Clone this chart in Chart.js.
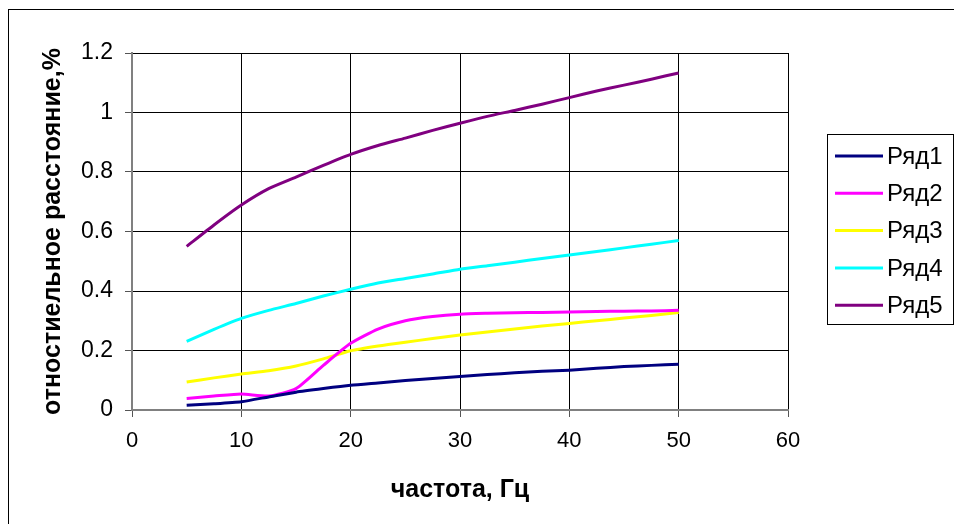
<!DOCTYPE html>
<html>
<head>
<meta charset="utf-8">
<script src="https://cdn.jsdelivr.net/npm/chart.js@4"></script>
<style>
  html, body { margin: 0; padding: 0; background: #fff; }
  #wrap { position: relative; width: 954px; height: 524px; overflow: hidden; background: #fff; }
  #wrap canvas { position: absolute; left: 0; top: 0; }
  #frame { position: absolute; left: 8px; top: 9px; width: 980px; height: 540px;
           border-left: 1px solid #000; border-top: 1px solid #000; pointer-events: none; }
</style>
</head>
<body>
<div id="wrap">
  <canvas id="chart" width="954" height="524"></canvas>
  <div id="frame"></div>
</div>
<script>
// Frequency, Hz
const freq = [5, 7.5, 10, 12.5, 15, 17.5, 20, 22.5, 25, 27.5, 30, 32.5, 35, 37.5, 40, 42.5, 45, 47.5, 50];

// Relative distance, %
const row1 = [0.016, 0.021, 0.028, 0.044, 0.060, 0.072, 0.083, 0.091, 0.099, 0.106, 0.113, 0.119, 0.125, 0.130, 0.134, 0.140, 0.146, 0.150, 0.154];
const row2 = [0.039, 0.047, 0.054, 0.047, 0.072, 0.150, 0.224, 0.272, 0.300, 0.314, 0.322, 0.325, 0.327, 0.328, 0.329, 0.331, 0.332, 0.333, 0.335];
const row3 = [0.094, 0.108, 0.121, 0.132, 0.148, 0.172, 0.199, 0.215, 0.228, 0.240, 0.252, 0.262, 0.272, 0.282, 0.291, 0.300, 0.309, 0.318, 0.328];
const row4 = [0.231, 0.271, 0.308, 0.335, 0.358, 0.383, 0.406, 0.427, 0.442, 0.457, 0.473, 0.485, 0.497, 0.509, 0.521, 0.533, 0.545, 0.557, 0.570];
const row5 = [0.550, 0.622, 0.689, 0.744, 0.783, 0.822, 0.859, 0.889, 0.914, 0.940, 0.964, 0.987, 1.007, 1.028, 1.050, 1.072, 1.092, 1.112, 1.133];

const seriesNames = ['Ряд1', 'Ряд2', 'Ряд3', 'Ряд4', 'Ряд5'];
const seriesColors = ['#000080', '#FF00FF', '#FFFF00', '#00FFFF', '#800080'];

const xTicks = [0, 10, 20, 30, 40, 50, 60];
const xTickLabels = ['0', '10', '20', '30', '40', '50', '60'];
const yTicks = [0, 0.2, 0.4, 0.6, 0.8, 1, 1.2];
const yTickLabels = ['0', '0.2', '0.4', '0.6', '0.8', '1', '1.2'];

const FONT = '"Liberation Sans", Arial, sans-serif';

const datasets = [row1, row2, row3, row4, row5].map((vals, i) => ({
  label: seriesNames[i],
  data: freq.map((f, j) => ({ x: f, y: vals[j] })),
  borderColor: seriesColors[i],
  backgroundColor: seriesColors[i],
  borderWidth: 3,
  pointRadius: 0,
  tension: 0.2,
  fill: false
}));

// Boxed legend on the right, drawn from the dataset list
const boxLegend = {
  id: 'boxLegend',
  afterDraw(chart, args, opts) {
    const ctx = chart.ctx;
    ctx.save();
    ctx.strokeStyle = '#000';
    ctx.lineWidth = 1;
    ctx.strokeRect(opts.left + 0.5, opts.top + 0.5, opts.width, opts.height);
    ctx.font = opts.fontSize + 'px ' + FONT;
    ctx.textBaseline = 'middle';
    ctx.textAlign = 'left';
    chart.data.datasets.forEach((ds, i) => {
      const y = opts.firstY + i * opts.step;
      ctx.strokeStyle = ds.borderColor;
      ctx.lineWidth = 3;
      ctx.beginPath();
      ctx.moveTo(opts.lineX0, y);
      ctx.lineTo(opts.lineX1, y);
      ctx.stroke();
      ctx.fillStyle = '#000';
      ctx.fillText(ds.label, opts.textX, y + 1);
    });
    ctx.restore();
  }
};

new Chart(document.getElementById('chart'), {
  type: 'line',
  data: { datasets },
  plugins: [boxLegend],
  options: {
    responsive: false,
    animation: false,
    layout: { padding: { left: 0, top: 53, right: 166, bottom: 0 } },
    plugins: {
      legend: { display: false },
      tooltip: { enabled: false },
      boxLegend: { left: 827, top: 134, width: 126, height: 190,
                   firstY: 156, step: 37.3, lineX0: 835, lineX1: 883, textX: 887, fontSize: 24 }
    },
    scales: {
      x: {
        type: 'linear',
        min: 0, max: 60,
        afterBuildTicks: s => { s.ticks = xTicks.map(v => ({ value: v })); },
        afterFit: s => { s.height = 114; },
        ticks: {
          callback: v => xTickLabels[xTicks.indexOf(v)],
          color: '#000',
          font: { family: FONT, size: 22 },
          padding: 11,
          maxRotation: 0,
          autoSkip: false
        },
        grid: { color: '#000', lineWidth: 1, tickLength: 7, tickColor: '#555' },
        border: { color: '#808080', width: 2 },
        title: {
          display: true,
          text: 'частота, Гц',
          color: '#000',
          font: { family: FONT, size: 25, weight: 'bold' },
          padding: { top: 0, bottom: 19 }
        }
      },
      y: {
        type: 'linear',
        min: 0, max: 1.2,
        afterBuildTicks: s => { s.ticks = yTicks.map(v => ({ value: v })); },
        afterFit: s => { s.width = 132; },
        ticks: {
          callback: v => yTickLabels[yTicks.indexOf(v)],
          color: '#000',
          font: { family: FONT, size: 23 },
          padding: 12,
          autoSkip: false
        },
        grid: { color: '#000', lineWidth: 1, tickLength: 7, tickColor: '#555' },
        border: { color: '#808080', width: 2 },
        title: {
          display: true,
          text: 'отностиельное расстояние,%',
          color: '#000',
          font: { family: FONT, size: 25, weight: 'bold' },
          padding: { top: 38, bottom: 0 }
        }
      }
    }
  }
});
</script>
</body>
</html>
